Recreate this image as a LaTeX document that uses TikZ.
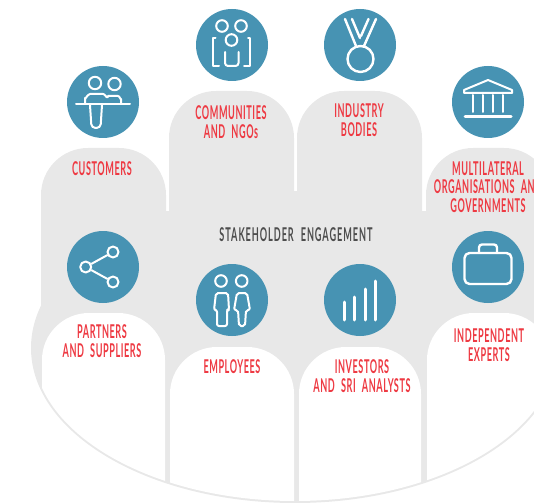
\documentclass[tikz,border=0pt]{standalone}
\usepackage{fontspec}
\setmainfont[FakeStretch=0.48,LetterSpace=3,WordSpace=2.2,BoldFont={Lato Bold}]{Lato}
\definecolor{panelgrey}{HTML}{E8E8E8}
\definecolor{badgeblue}{HTML}{4793B3}
\definecolor{labelred}{HTML}{EE3A43}
\definecolor{titlegrey}{HTML}{4D4D4D}
\begin{document}
\begin{tikzpicture}[x=1pt,y=-1pt]
        %
        % `hump' is used for the rounded panels.
        % `badge' is used for the blue discs.
        % `icon' is used for the white line work.
        \tikzstyle{hump} = [rounded corners=47pt]
        \tikzstyle{badge} = [fill=badgeblue,shape=circle,minimum size=72pt,inner sep=0pt]
        \tikzstyle{icon} = [draw=white,line width=2pt,line join=round,line cap=round]
        \tikzstyle{label} = [text=labelred,align=center,font=\fontsize{19}{18.5}\selectfont\bfseries]
        %
        \clip (0,0) rectangle (534,502);
        %
        % Grey panels, upper row
        \fill[panelgrey,hump] (41,320) -- (41,148) -- (166,148) -- (166,320);
        \fill[panelgrey,hump] (169,215) -- (169,91) -- (294,91) -- (294,215);
        \fill[panelgrey,hump] (297,215) -- (297,91) -- (422,91) -- (422,215);
        \fill[panelgrey,hump] (426,320) -- (426,148) -- (551,148) -- (551,320);
        \fill[panelgrey] (169,191) rectangle (422,215);
        \fill[panelgrey] (41,211) rectangle (534,320);
        % Big bowl
        \fill[panelgrey] (295,348) ellipse [x radius=264, y radius=155];
        %
        % White panels, lower row
        \begin{scope}
        \clip (295,348) ellipse [x radius=262, y radius=153];
        \fill[white,hump] (42,510) -- (42,313) -- (165,313) -- (165,510);
        \fill[white,hump] (170,510) -- (170,347) -- (294,347) -- (294,510);
        \fill[white,hump] (299,510) -- (299,347) -- (421,347) -- (421,510);
        \fill[white,hump] (427,510) -- (427,313) -- (551,313) -- (551,510);
        \end{scope}
        %
        % Discs
        \node[badge] (customers) at (103,102) {};
        \node[badge] (communities) at (232,45) {};
        \node[badge] (industry) at (360,45) {};
        \node[badge] (multilateral) at (488,102) {};
        \node[badge] (partners) at (103,267) {};
        \node[badge] (employees) at (232,300) {};
        \node[badge] (investors) at (360,300) {};
        \node[badge] (independent) at (488,267) {};
        %
        % Labels
        \node[label] (customerstext) at (102,169) {CUSTOMERS};
        \node[label] (communitiestext) at (231,122) {COMMUNITIES\\AND NGOs};
        \node[label] (industrytext) at (359,120) {INDUSTRY\\BODIES};
        \node[label] (multilateraltext) at (488,187) {MULTILATERAL\\ORGANISATIONS AND\\GOVERNMENTS};
        \node[label] (partnerstext) at (102,341) {PARTNERS\\AND SUPPLIERS};
        \node[label] (employeestext) at (232,367) {EMPLOYEES};
        \node[label] (investorstext) at (362,376) {INVESTORS\\AND SRI ANALYSTS};
        \node[label] (independenttext) at (489,345) {INDEPENDENT\\EXPERTS};
        \node[text=titlegrey,font=\fontsize{19}{18.5}\selectfont\bfseries\addfontfeature{LetterSpace=5}] (title) at (296,235) {STAKEHOLDER ENGAGEMENT};
        %
        % Icon: customers
        \draw[icon] (95,83) circle (6.2);
        \draw[icon] (114.5,84) circle (6.2);
        \draw[icon] (76,104.5) -- (130,104.5);
        \draw[icon] (85,104) -- (85,98) to[out=-90,in=180] (90,94) -- (103,94) to[out=0,in=-135] (108,97);
        \draw[icon] (108,96) -- (118,96) to[out=0,in=-90] (121,99) -- (121,104);
        \draw[icon,rounded corners=4pt] (90,105) -- (91.5,128) -- (100.5,128) -- (102,105);
        %
        % Icon: communities
        \draw[icon] (222,26) circle (5.8);
        \draw[icon] (241,26) circle (5.8);
        \draw[icon] (231.5,40) circle (5.8);
        \draw[icon] (215.5,38) -- (213,38) -- (213,66) -- (219,66);
        \draw[icon] (248,38) -- (250,38) -- (250,66) -- (244,66);
        \draw[icon,rounded corners=3pt] (225,52) -- (225,66) -- (238.5,66) -- (238.5,52);
        %
        % Icon: industry
        \draw[icon,line width=2.4pt] (360.5,59) circle (13);
        \draw[icon,line width=2.4pt] (345,19) -- (356,46);
        \draw[icon,line width=2.4pt] (352,19) -- (360,38);
        \draw[icon,line width=2.4pt] (368.5,19) -- (361,36);
        \draw[icon,line width=2.4pt] (376,19) -- (364,46);
        %
        % Icon: multilateral
        \draw[icon] (488,80) -- (512,90) -- (512,93) -- (464,93) -- (464,90) -- cycle;
        \draw[icon] (473,95) -- (473,112);
        \draw[icon] (482.5,95) -- (482.5,112);
        \draw[icon] (492.5,95) -- (492.5,112);
        \draw[icon] (503,95) -- (503,112);
        \draw[icon,line width=3pt] (465,117) -- (511,117);
        %
        % Icon: partners
        \node[icon,shape=circle,minimum size=11pt,inner sep=0pt] (sharehub) at (85.7,267) {};
        \node[icon,shape=circle,minimum size=11pt,inner sep=0pt] (sharetop) at (113,252) {};
        \node[icon,shape=circle,minimum size=11pt,inner sep=0pt] (sharelow) at (113,282) {};
        \draw[icon] (sharehub) -- (sharetop);
        \draw[icon] (sharehub) -- (sharelow);
        %
        % Icon: employees
        \draw[icon] (221,281) circle (5.8);
        \draw[icon] (241.7,281) circle (5.8);
        \draw[icon,rounded corners=2pt] (216,293) -- (228,293) -- (229,310) -- (227,310) -- (227,326) -- (217,326) -- (217,310) -- (214,310) -- cycle;
        \draw[icon,rounded corners=2pt] (237,293) -- (247,293) -- (250,310) -- (246,310) -- (245,326) -- (239,326) -- (238,310) -- (234,310) -- cycle;
        %
        % Icon: investors
        \draw[icon,line width=3pt] (344,302) -- (344,320);
        \draw[icon,line width=3pt] (354.7,297) -- (354.7,320);
        \draw[icon,line width=3pt] (365,289) -- (365,320);
        \draw[icon,line width=3pt] (375.7,281) -- (375.7,320);
        %
        % Icon: independent
        \draw[icon,line width=2.4pt,rounded corners=5pt] (464.5,253) rectangle (511.5,284);
        \draw[icon,line width=2.4pt,rounded corners=3pt] (479,253) -- (479,244.5) -- (497,244.5) -- (497,253);
        %
\end{tikzpicture}
\end{document}
